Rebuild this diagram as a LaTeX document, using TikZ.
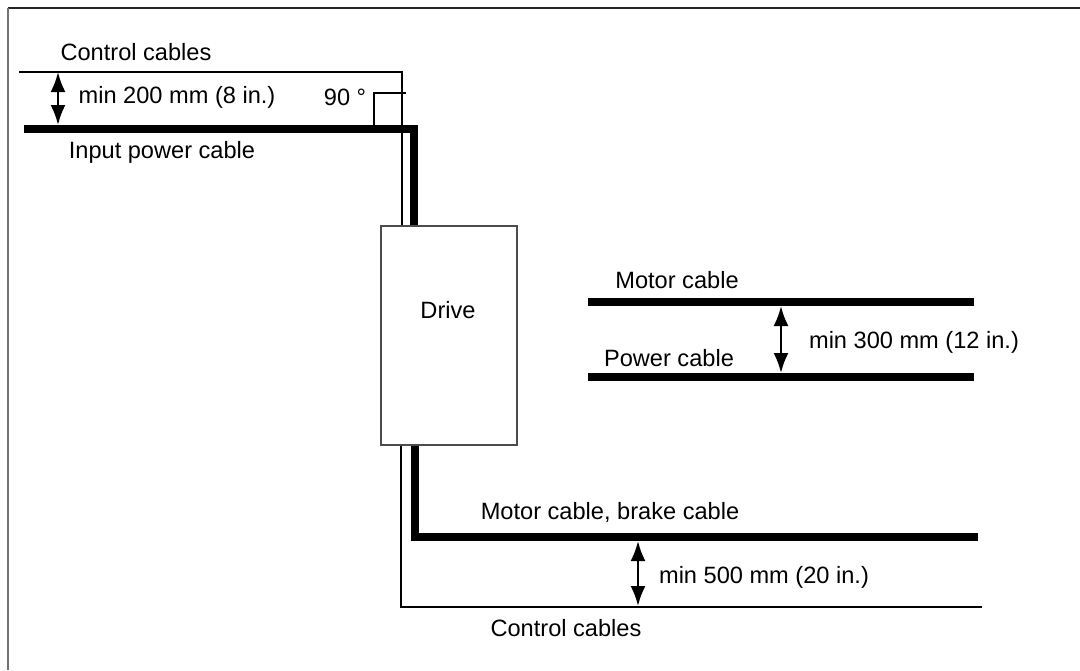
\documentclass[tikz,border=0pt]{standalone}
\usepackage{fontspec}
\setmainfont{Liberation Sans}
\usetikzlibrary{arrows.meta}

\begin{document}
\begin{tikzpicture}[
	x=0.5pt, y=-0.5pt,
	thincable/.style={draw=black, line width=1.45pt},
	thickcable/.style={draw=black, line width=4pt},
	gap/.style={{Latex[length=10pt,width=7.5pt]}-{Latex[length=10pt,width=7.5pt]}, line width=1.2pt},
	drivebox/.style={draw=black!70, line width=0.7pt, minimum width=68pt, minimum height=109.5pt, inner sep=0pt},
	annotation/.style={font=\fontsize{11.8}{14}\selectfont, inner sep=0pt}
	]
	\useasboundingbox (0,0) rectangle (1080,670);
	
	% --- CORNICE ---
	\draw[black!85, line width=1pt] (8,8) -- (1080,8);
	\draw[black!55, line width=1pt] (8,8) -- (8,670);
	
	% --- DRIVE ---
	\node[drivebox] (drive) at (449,335.5) {};
	\node[annotation] (drivetxt) at (448,310) {Drive};
	
	% --- CAVI IN INGRESSO ---
	\coordinate (ctlin) at (19,72);
	\coordinate (ctlcorner) at (402,72);
	\coordinate (pwrin) at (24,129);
	\coordinate (pwrcorner) at (414,129);
	\draw[thincable] (ctlin) -- (ctlcorner) -- (ctlcorner |- drive.north);
	\draw[thickcable] (pwrin) -- (pwrcorner) -- (pwrcorner |- drive.north);
	% angolo retto
	\coordinate (rt1) at (374,127);
	\coordinate (rt2) at (374,93);
	\coordinate (rt3) at (406,93);
	\draw[thincable] (rt1) -- (rt2) -- (rt3);
	
	\node[annotation] (ctltop) at (136,52) {Control cables};
	\node[annotation] (gap200) at (177,97) {min 200 mm (8 in.)};
	\node[annotation] (angle) at (345,97) {90 °};
	\node[annotation] (inpower) at (162,152) {Input power cable};
	\coordinate (g200a) at (58,72);
	\coordinate (g200b) at (58,125);
	\draw[gap] (g200a) -- (g200b);
	
	% --- MOTORE / POTENZA ---
	\coordinate (mot1) at (588,302);
	\coordinate (mot2) at (974,302);
	\coordinate (pow1) at (588,377);
	\coordinate (pow2) at (974,377);
	\draw[thickcable] (mot1) -- (mot2);
	\draw[thickcable] (pow1) -- (pow2);
	\node[annotation] (motlbl) at (677,280) {Motor cable};
	\node[annotation] (powlbl) at (669,358) {Power cable};
	\node[annotation] (gap300) at (914,342) {min 300 mm (12 in.)};
	\coordinate (g300a) at (781,306);
	\coordinate (g300b) at (781,373);
	\draw[gap] (g300a) -- (g300b);
	
	% --- CAVI IN USCITA ---
	\coordinate (ctlout) at (401,607);
	\coordinate (ctlend) at (982,607);
	\coordinate (motout) at (415,537);
	\coordinate (motend) at (978,537);
	\draw[thincable] (ctlout |- drive.south) -- (ctlout) -- (ctlend);
	\draw[thickcable] (motout |- drive.south) -- (motout) -- (motend);
	\node[annotation] (brakelbl) at (610,512) {Motor cable, brake cable};
	\node[annotation] (gap500) at (764,577) {min 500 mm (20 in.)};
	\node[annotation] (ctlbot) at (566,628) {Control cables};
	\coordinate (g500a) at (638,541);
	\coordinate (g500b) at (638,606);
	\draw[gap] (g500a) -- (g500b);
	
\end{tikzpicture}
\end{document}
